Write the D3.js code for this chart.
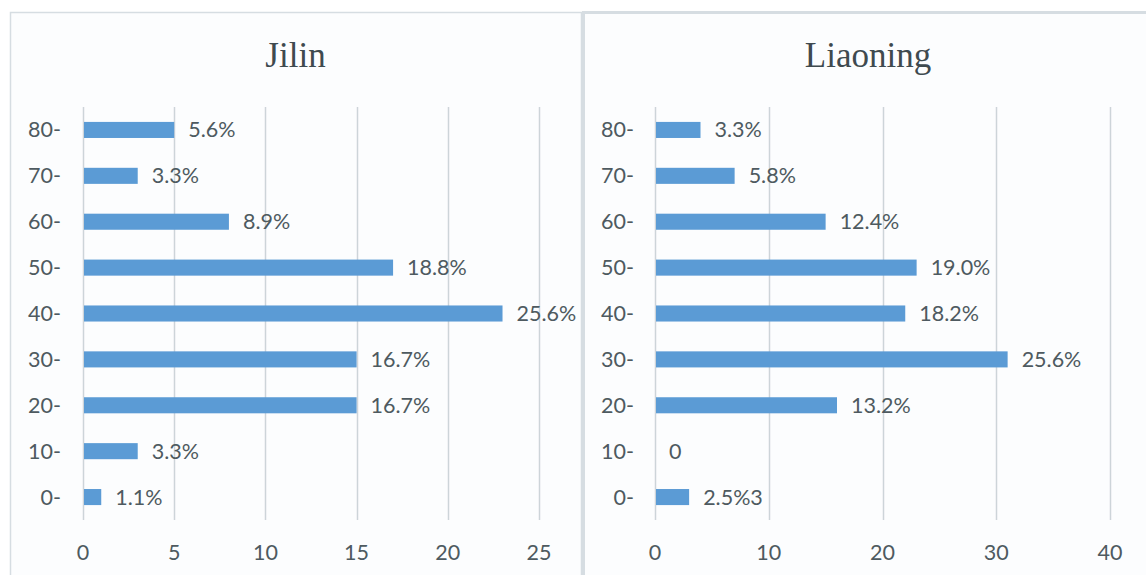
<!DOCTYPE html>
<html>
<head>
<meta charset="utf-8">
<script src="https://cdn.jsdelivr.net/npm/d3@7/dist/d3.min.js"></script>
<style>
  body { margin: 0; background: #ffffff; }
  svg { display: block; }
</style>
</head>
<body>
<svg id="chart" width="1146" height="575"></svg>
<script>
// age groups, top to bottom
var ageGroups = ['80-', '70-', '60-', '50-', '40-', '30-', '20-', '10-', '0-'];

// counts (bar lengths) and printed labels
var jilinCounts = [5, 3, 8, 17, 23, 15, 15, 3, 1];
var jilinLabels = ['5.6%', '3.3%', '8.9%', '18.8%', '25.6%', '16.7%', '16.7%', '3.3%', '1.1%'];
var jilinTicks = [0, 5, 10, 15, 20, 25];

var liaoningCounts = [4, 7, 15, 23, 22, 31, 16, 0, 3];
var liaoningLabels = ['3.3%', '5.8%', '12.4%', '19.0%', '18.2%', '25.6%', '13.2%', '0', '2.5%3'];
var liaoningTicks = [0, 10, 20, 30, 40];

var svg = d3.select('#chart');
var textColor = '#4e5a60';
var labelFont = 'Lato, "Open Sans", sans-serif';
var labelSize = 21.5;

var panels = [
    {title: 'Jilin', counts: jilinCounts, labels: jilinLabels, ticks: jilinTicks,
     px: 10, pw: 571, x0: 83, x1: 539, catRight: 61},
    {title: 'Liaoning', counts: liaoningCounts, labels: liaoningLabels, ticks: liaoningTicks,
     px: 583, pw: 570, x0: 655, x1: 1110, catRight: 634}
];

panels.forEach(function(p) {
    var g = svg.append('g');

    // panel frame
    g.append('rect')
        .attr('x', p.px + 0.5)
        .attr('y', 12.5)
        .attr('width', p.pw)
        .attr('height', 600)
        .attr('fill', '#fcfdfe')
        .attr('stroke', '#d6dde2')
        .attr('stroke-width', p.title === 'Liaoning' ? 3 : 1.5);

    var xScale = d3.scaleLinear()
        .domain([0, p.ticks[p.ticks.length - 1]])
        .range([p.x0, p.x1]);

    var yScale = d3.scaleBand()
        .domain(ageGroups)
        .range([107, 520])
        .paddingInner(0.65)
        .paddingOuter(0.325);

    // title
    g.append('text')
        .attr('x', p.px + p.pw / 2)
        .attr('y', 67)
        .attr('text-anchor', 'middle')
        .attr('font-family', '"Liberation Serif", "DejaVu Serif", serif')
        .attr('font-size', 35)
        .attr('fill', '#3f4a4f')
        .text(p.title);

    // vertical gridlines
    g.selectAll('.grid')
        .data(p.ticks)
        .enter().append('line')
        .attr('class', 'grid')
        .attr('x1', function(d) { return Math.round(xScale(d)) + 0.5; })
        .attr('x2', function(d) { return Math.round(xScale(d)) + 0.5; })
        .attr('y1', 107)
        .attr('y2', 520)
        .attr('stroke', '#cdd4d9')
        .attr('stroke-width', 1.5);

    // x tick labels
    g.selectAll('.xtick')
        .data(p.ticks)
        .enter().append('text')
        .attr('class', 'xtick')
        .attr('x', function(d) { return xScale(d); })
        .attr('y', 552)
        .attr('dy', '0.35em')
        .attr('text-anchor', 'middle')
        .attr('font-family', labelFont)
        .attr('font-size', labelSize)
        .attr('fill', textColor)
        .text(function(d) { return d; });

    // category labels
    g.selectAll('.ycat')
        .data(ageGroups)
        .enter().append('text')
        .attr('class', 'ycat')
        .attr('x', p.catRight)
        .attr('y', function(d) { return yScale(d) + yScale.bandwidth() / 2; })
        .attr('dy', '0.35em')
        .attr('text-anchor', 'end')
        .attr('font-family', labelFont)
        .attr('font-size', labelSize)
        .attr('fill', textColor)
        .text(function(d) { return d; });

    // bars
    g.selectAll('.bar')
        .data(p.counts)
        .enter().append('rect')
        .attr('class', 'bar')
        .attr('x', xScale(0) + 1)
        .attr('y', function(d, i) { return yScale(ageGroups[i]); })
        .attr('width', function(d) { return Math.max(0, xScale(d) - xScale(0) - 1); })
        .attr('height', yScale.bandwidth())
        .attr('fill', '#5b9bd5');

    // value labels
    g.selectAll('.val')
        .data(p.counts)
        .enter().append('text')
        .attr('class', 'val')
        .attr('x', function(d) { return xScale(d) + 14; })
        .attr('y', function(d, i) { return yScale(ageGroups[i]) + yScale.bandwidth() / 2; })
        .attr('dy', '0.35em')
        .attr('font-family', labelFont)
        .attr('font-size', labelSize)
        .attr('fill', textColor)
        .text(function(d, i) { return p.labels[i]; });
});
</script>
</body>
</html>
